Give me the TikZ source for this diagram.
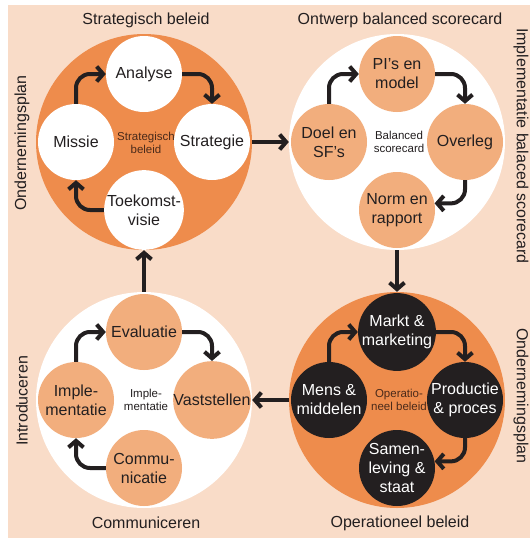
\documentclass[tikz,border=0pt]{standalone}
\usepackage{fontspec}
\setmainfont{Liberation Sans}
\usetikzlibrary{arrows.meta}
\definecolor{peach}{HTML}{F9DCC8}
\definecolor{orangebig}{HTML}{EE8C4C}
\definecolor{orangelight}{HTML}{F2AE7D}
\definecolor{ink}{HTML}{231F20}
\definecolor{brownink}{HTML}{4A2A1A}
\begin{document}
\begin{tikzpicture}[x=1pt,y=-1pt,
  ring/.style={circle,minimum size=216pt,inner sep=0pt},
  ringorange/.style={ring,fill=orangebig},
  ringwhite/.style={ring,fill=white},
  stepbox/.style={circle,minimum size=76pt,inner sep=0pt,align=center,
    font=\fontsize{16}{19}\selectfont,text=ink},
  stepwhite/.style={stepbox,fill=white},
  steplight/.style={stepbox,fill=orangelight},
  stepdark/.style={stepbox,fill=ink,text=white},
  hub/.style={align=center,font=\fontsize{11.5}{13.5}\selectfont,text=ink},
  hubbrown/.style={hub,text=brownink},
  title/.style={font=\fontsize{16}{18}\selectfont,text=ink,inner sep=0pt},
  cyc/.style={line width=4pt,draw=ink,rounded corners=14pt,
    -{Straight Barb[length=6.5pt,width=15pt]}},
  link/.style={line width=4pt,draw=ink,
    -{Straight Barb[length=6.5pt,width=15pt]}}]

% canvas and backdrop
\fill[white] (0,0) rectangle (530,541);
\useasboundingbox (0,0) rectangle (530,541);
\fill[peach] (8,5) rectangle (530,538);

% the four cycles
\node[ringorange] (sb) at (144,142) {};
\node[ringwhite]  (bs) at (397,142) {};
\node[ringwhite]  (im) at (144,400) {};
\node[ringorange] (ob) at (397,400) {};

% Strategisch beleid
\node[hubbrown] (sbhub) at (146,143) {Strategisch\\beleid};
\node[stepwhite] (sb1) at (76,142)  {Missie};
\node[stepwhite] (sb2) at (144,74)  {Analyse};
\node[stepwhite] (sb3) at (212,142) {Strategie};
\node[stepwhite] (sb4) at (144,210) {Toekomst-\\visie};

% Balanced scorecard
\node[hub] (bshub) at (399,142) {Balanced\\scorecard};
\node[steplight] (bs1) at (329,142) {Doel en\\SF’s};
\node[steplight] (bs2) at (397,74)  {PI’s en\\model};
\node[steplight] (bs3) at (465,142) {Overleg};
\node[steplight] (bs4) at (397,210) {Norm en\\rapport};

% Implementatie
\node[hub] (imhub) at (146,400) {Imple-\\mentatie};
\node[steplight] (im1) at (76,400)  {Imple-\\mentatie};
\node[steplight] (im2) at (144,332) {Evaluatie};
\node[steplight] (im3) at (212,400) {Vaststellen};
\node[steplight] (im4) at (144,468) {Commu-\\nicatie};

% Operationeel beleid
\node[hubbrown] (obhub) at (399,400) {Operatio-\\neel beleid};
\node[stepdark] (ob1) at (329,400) {Mens \&\\middelen};
\node[stepdark] (ob2) at (397,332) {Markt \&\\marketing};
\node[stepdark] (ob3) at (465,400) {Productie\\\& proces};
\node[stepdark] (ob4) at (397,468) {Samen-\\leving \&\\staat};

% arrows inside the cycles
\draw[cyc] (sb1.north) |- (sb2.west);
\draw[cyc] (sb2.east) -| (sb3.north);
\draw[cyc] (sb4.west) -| (sb1.south);

\draw[cyc] (bs1.north) |- (bs2.west);
\draw[cyc] (bs2.east) -| (bs3.north);
\draw[cyc] (bs3.south) |- (bs4.10);

\draw[cyc] (im1.north) |- (im2.west);
\draw[cyc] (im2.east) -| (im3.north);
\draw[cyc] (im4.west) -| (im1.south);

\draw[cyc] (ob1.north) |- (ob2.west);
\draw[cyc] (ob2.east) -| (ob3.north);
\draw[cyc] (ob3.south) |- (ob4.10);

% arrows between the cycles
\draw[link] (sb.east) -- (bs.west);
\draw[link] (bs.south) -- (ob.north);
\draw[link] (ob.west) -- (im.east);
\draw[link] (im.north) -- (sb.south);

% titles
\node[title] (t1) at (146,20)  {Strategisch beleid};
\node[title] (t2) at (400,20)  {Ontwerp balanced scorecard};
\node[title] (t3) at (146,523) {Communiceren};
\node[title] (t4) at (400,523) {Operationeel beleid};

% side labels
\node[title,rotate=90]  (s1) at (22,143)  {Ondernemingsplan};
\node[title,rotate=90]  (s2) at (22,401)  {Introduceren};
\node[title,rotate=-90] (s3) at (521,146) {Implementatie balaced scorecard};
\node[title,rotate=-90] (s4) at (521,396) {Ondernemingsplan};
\end{tikzpicture}
\end{document}
